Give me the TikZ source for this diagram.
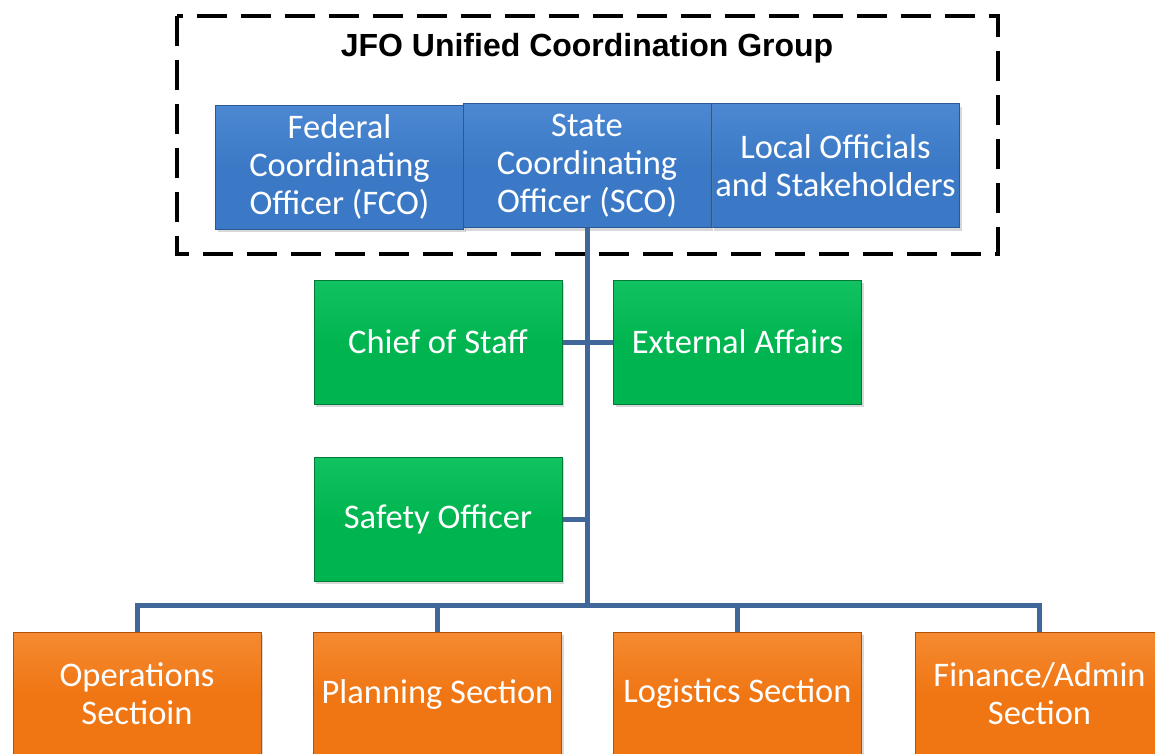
\documentclass[tikz,border=0pt]{standalone}
\usepackage{fontspec}
\setmainfont{Carlito}
\newfontfamily\titlefont{Liberation Sans}
\usetikzlibrary{shadows}
\definecolor{lineblue}{HTML}{41679A}
\definecolor{boxblue}{HTML}{3B79C6}
\definecolor{boxbluetop}{HTML}{4C88D2}
\definecolor{boxblueedge}{HTML}{2A5A96}
\definecolor{boxgreen}{HTML}{00B550}
\definecolor{boxgreentop}{HTML}{12C262}
\definecolor{boxgreenedge}{HTML}{007A36}
\definecolor{boxorange}{HTML}{F07614}
\definecolor{boxorangetop}{HTML}{F58A30}
\definecolor{boxorangeedge}{HTML}{B05206}
\tikzset{
  orgbox/.style={rectangle, minimum width=248pt, minimum height=124pt, inner sep=2pt,
    text=white, align=center, font=\fontsize{34.5}{38}\selectfont,
    line width=1pt, drop shadow={shadow xshift=2pt, shadow yshift=-3pt, opacity=0.3}},
  bluebox/.style={orgbox, draw=boxblueedge, top color=boxbluetop, bottom color=boxblue, middle color=boxblue},
  greenbox/.style={orgbox, draw=boxgreenedge, top color=boxgreentop, bottom color=boxgreen, middle color=boxgreen},
  orangebox/.style={orgbox, draw=boxorangeedge, top color=boxorangetop, bottom color=boxorange, middle color=boxorange},
  conn/.style={draw=lineblue, line width=5pt},
  groupframe/.style={draw=black, line width=4pt, dash pattern=on 30pt off 14pt}
}
\begin{document}
\begin{tikzpicture}[x=1pt,y=-1pt]
\useasboundingbox (0,0) rectangle (1155,753);
\fill[white] (0,0) rectangle (1155,753);
% group frame
\draw[groupframe] (177,16) rectangle (998,254);
\node[font=\titlefont\bfseries\fontsize{32}{36}\selectfont] (title) at (587,48) {JFO Unified Coordination Group};
\coordinate (bus) at (587,605);
\node[bluebox] (fco) at (339.5,167) {Federal\\Coordinating\\Officer (FCO)};
\node[bluebox] (loc) at (835.5,165.5) {Local Officials\\and Stakeholders};
\node[bluebox] (sco) at (587,165.5) {State\\Coordinating\\Officer (SCO)};
\node[greenbox] (cos) at (438,342) {Chief of Staff};
\node[greenbox] (ext) at (737.5,342) {External Affairs};
\node[greenbox] (saf) at (438,519) {Safety Officer};
\node[orangebox] (ops) at (137,694) {Operations\\Sectioin};
\node[orangebox] (pln) at (437.5,694) {Planning Section};
\node[orangebox] (log) at (737.5,694) {Logistics Section};
\node[orangebox] (fin) at (1039.5,694) {Finance/Admin\\Section};
\draw[conn] (sco.south) -- (bus);
\draw[conn] (cos.east) -- (ext.west);
\draw[conn] (saf.east) -- (saf.east -| bus);
\draw[conn] (ops.north) -- (ops.north |- bus) -- (fin.north |- bus) -- (fin.north);
\draw[conn] (pln.north) -- (pln.north |- bus);
\draw[conn] (log.north) -- (log.north |- bus);
\end{tikzpicture}
\end{document}
